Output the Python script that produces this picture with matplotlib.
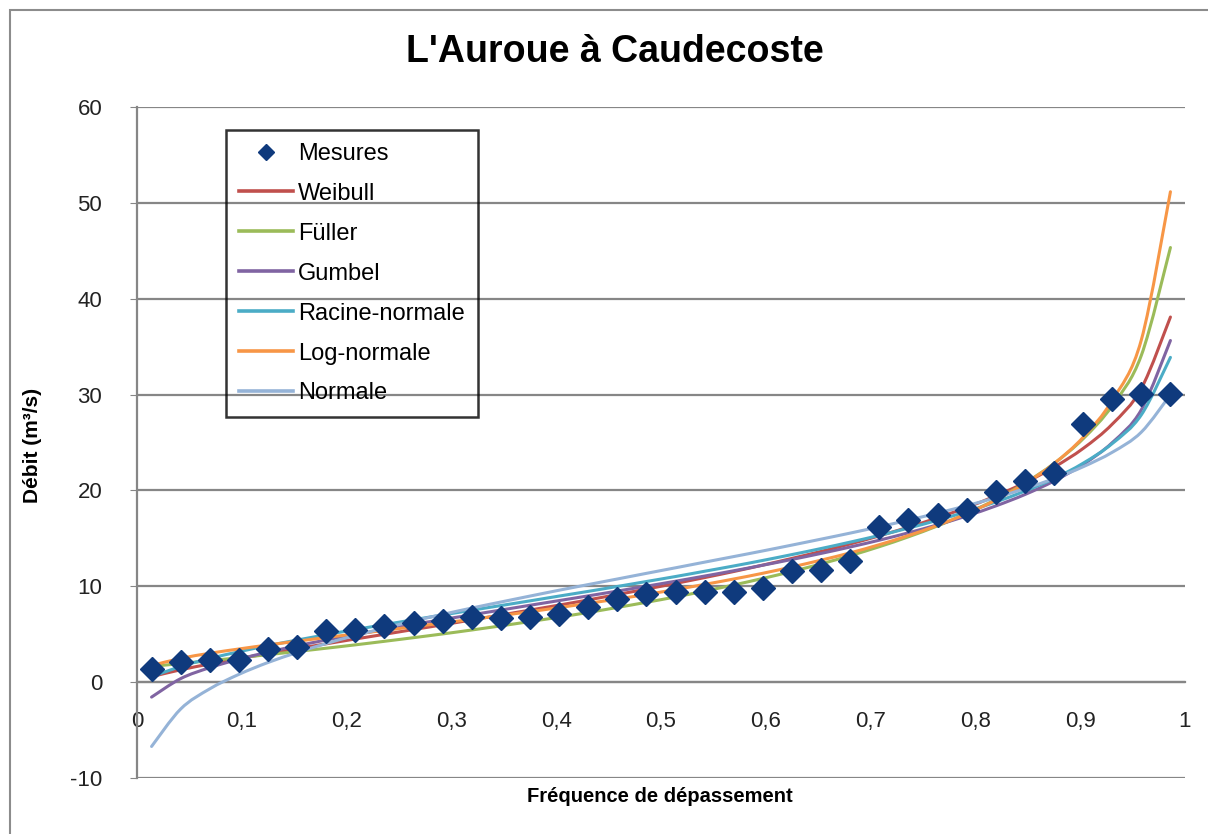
import matplotlib
matplotlib.use("Agg")
import matplotlib.pyplot as plt
from matplotlib.lines import Line2D
from matplotlib.patches import Rectangle, PathPatch
from matplotlib.path import Path
from matplotlib.ticker import FuncFormatter, MultipleLocator

plt.rcParams['font.family'] = ['Liberation Sans', 'DejaVu Sans']
plt.rcParams['axes.unicode_minus'] = False

# frequences (positions de tracé)
freq = [0.0139, 0.0417, 0.0694, 0.0972, 0.125, 0.1528, 0.1806, 0.2083, 0.2361,
        0.2639, 0.2917, 0.3194, 0.3472, 0.375, 0.4028, 0.4306, 0.4583, 0.4861,
        0.5139, 0.5417, 0.5694, 0.5972, 0.625, 0.6528, 0.6806, 0.7083, 0.7361,
        0.7639, 0.7917, 0.8194, 0.8472, 0.875, 0.9028, 0.9306, 0.9583, 0.9861]

mesures = [1.4, 2.1, 2.3, 2.3, 3.5, 3.7, 5.3, 5.4, 5.9, 6.2, 6.4, 6.8, 6.7, 6.8,
           7.1, 7.8, 8.7, 9.2, 9.4, 9.4, 9.4, 9.8, 11.6, 11.7, 12.6, 16.2, 16.9,
           17.4, 18.0, 19.8, 21.0, 21.8, 26.9, 29.5, 30.1, 30.1]

weibull = [0.57, 1.29, 1.89, 2.45, 2.98, 3.49, 4.00, 4.50, 4.99, 5.49, 5.98, 6.49,
           7.00, 7.52, 8.04, 8.58, 9.14, 9.71, 10.30, 10.91, 11.54, 12.21, 12.91,
           13.64, 14.42, 15.26, 16.17, 17.15, 18.23, 19.43, 20.80, 22.42, 24.38,
           26.92, 30.63, 38.09]

fuller = [1.64, 1.94, 2.24, 2.55, 2.87, 3.20, 3.54, 3.89, 4.26, 4.64, 5.03, 5.44,
          5.87, 6.32, 6.78, 7.27, 7.79, 8.33, 8.89, 9.50, 10.14, 10.82, 11.55,
          12.34, 13.20, 14.13, 15.16, 16.30, 17.58, 19.05, 20.76, 22.81, 25.39,
          28.84, 34.08, 45.34]

gumbel = [-1.56, 0.37, 1.51, 2.39, 3.13, 3.79, 4.40, 4.96, 5.50, 6.03, 6.53, 7.03,
          7.52, 8.02, 8.51, 9.00, 9.50, 10.01, 10.53, 11.07, 11.62, 12.20, 12.80,
          13.43, 14.10, 14.81, 15.58, 16.42, 17.34, 18.38, 19.57, 20.98, 22.71,
          24.99, 28.41, 35.64]

racine = [0.55, 1.64, 2.47, 3.17, 3.81, 4.39, 4.95, 5.49, 6.00, 6.51, 7.01, 7.50,
          7.99, 8.48, 8.98, 9.47, 9.98, 10.50, 11.02, 11.57, 12.12, 12.70, 13.31,
          13.94, 14.61, 15.31, 16.07, 16.89, 17.79, 18.79, 19.93, 21.23, 22.84,
          24.89, 27.88, 33.88]

lognormale = [1.73, 2.48, 3.01, 3.46, 3.88, 4.27, 4.66, 5.03, 5.40, 5.78, 6.17,
              6.55, 6.95, 7.35, 7.78, 8.22, 8.67, 9.15, 9.66, 10.20, 10.76, 11.36,
              12.02, 12.73, 13.49, 14.34, 15.29, 16.36, 17.57, 18.99, 20.70, 22.80,
              25.54, 29.40, 35.69, 51.16]

normale = [-6.71, -2.80, -0.70, 0.81, 2.05, 3.09, 4.03, 4.87, 5.64, 6.38, 7.07,
           7.73, 8.36, 8.98, 9.59, 10.18, 10.76, 11.35, 11.93, 12.52, 13.10, 13.69,
           14.30, 14.92, 15.55, 16.21, 16.90, 17.64, 18.41, 19.25, 20.19, 21.23,
           22.47, 23.98, 26.08, 29.99]

courbes = [("Weibull", weibull, "#C0504D"),
           ("Füller", fuller, "#9BBB59"),
           ("Gumbel", gumbel, "#8064A2"),
           ("Racine-normale", racine, "#4BACC6"),
           ("Log-normale", lognormale, "#F79646"),
           ("Normale", normale, "#95B3D7")]


def courbe_lissee(xs, ys):
    # trait lissé façon Excel (Bézier de type Catmull-Rom passant par les points)
    pts = list(zip(xs, ys))
    n = len(pts)
    verts = [pts[0]]
    codes = [Path.MOVETO]
    for i in range(n - 1):
        p0 = pts[i - 1] if i > 0 else pts[i]
        p1 = pts[i]
        p2 = pts[i + 1]
        p3 = pts[i + 2] if i + 2 < n else pts[i + 1]
        c1 = (p1[0] + (p2[0] - p0[0]) / 6, p1[1] + (p2[1] - p0[1]) / 6)
        c2 = (p2[0] - (p3[0] - p1[0]) / 6, p2[1] - (p3[1] - p1[1]) / 6)
        verts += [c1, c2, p2]
        codes += [Path.CURVE4] * 3
    return Path(verts, codes)


fig = plt.figure(figsize=(12.08, 8.34), dpi=100)
fig.patches.append(Rectangle((10 / 1208, -0.1), 1.1, (834 - 10) / 834 + 0.1,
                             transform=fig.transFigure, fill=False,
                             edgecolor="#8C8C8C", lw=1.5))
ax = fig.add_axes([137 / 1208, 56 / 834, 1048 / 1208, 671 / 834])

for nom, vals, coul in courbes:
    ax.add_patch(PathPatch(courbe_lissee(freq, vals), fill=False, edgecolor=coul,
                           lw=2.2, zorder=3, capstyle="round"))
ax.plot(freq, mesures, ls="none", marker="D", ms=12, color="#0F3A7D",
        zorder=4)

ax.set_xlim(0, 1)
ax.set_ylim(-10, 60)
ax.yaxis.set_major_locator(MultipleLocator(10))
ax.xaxis.set_major_locator(MultipleLocator(0.1))
ax.xaxis.set_major_formatter(FuncFormatter(
    lambda v, p: "0" if abs(v) < 1e-9 else ("1" if abs(v - 1) < 1e-9 else f"{v:.1f}".replace(".", ","))))
ax.grid(axis="y", color="#868686", lw=1.6, zorder=0)
ax.set_axisbelow(True)
for s in ["top", "right"]:
    ax.spines[s].set_visible(False)
ax.spines["bottom"].set_position(("data", 0))
ax.spines["bottom"].set_color("#868686")
ax.spines["bottom"].set_linewidth(1.6)
ax.spines["left"].set_color("#868686")
ax.spines["left"].set_linewidth(1.6)
ax.tick_params(axis="x", length=0, pad=21, labelsize=16, labelcolor="#222222")
ax.tick_params(axis="y", length=5, color="#868686", pad=20, labelsize=16,
               labelcolor="#222222")

fig.text(615 / 1208, 1 - 52 / 834, "L'Auroue à Caudecoste", ha="center",
         va="center", fontsize=27, fontweight="bold")
fig.text(32 / 1208, 1 - 445 / 834, "Débit (m³/s)", rotation=90, ha="center",
         va="center", fontsize=15, fontweight="bold")
fig.text(660 / 1208, 1 - 797 / 834, "Fréquence de dépassement", ha="center",
         va="center", fontsize=14.5, fontweight="bold")

handles = [Line2D([], [], ls="none", marker="D", ms=8, color="#0F3A7D")]
labels = ["Mesures"]
for nom, vals, coul in courbes:
    handles.append(Line2D([], [], color=coul, lw=2.6))
    labels.append(nom)
leg = ax.legend(handles, labels, loc="upper left", bbox_to_anchor=(0.085, 0.966),
                fontsize=17, frameon=True, fancybox=False, edgecolor="black",
                facecolor="none", handlelength=2.3, handletextpad=0.2,
                labelspacing=0.76, borderpad=0.55, borderaxespad=0)
leg.get_frame().set_linewidth(1.8)

fig.savefig("out.png", dpi=100)
